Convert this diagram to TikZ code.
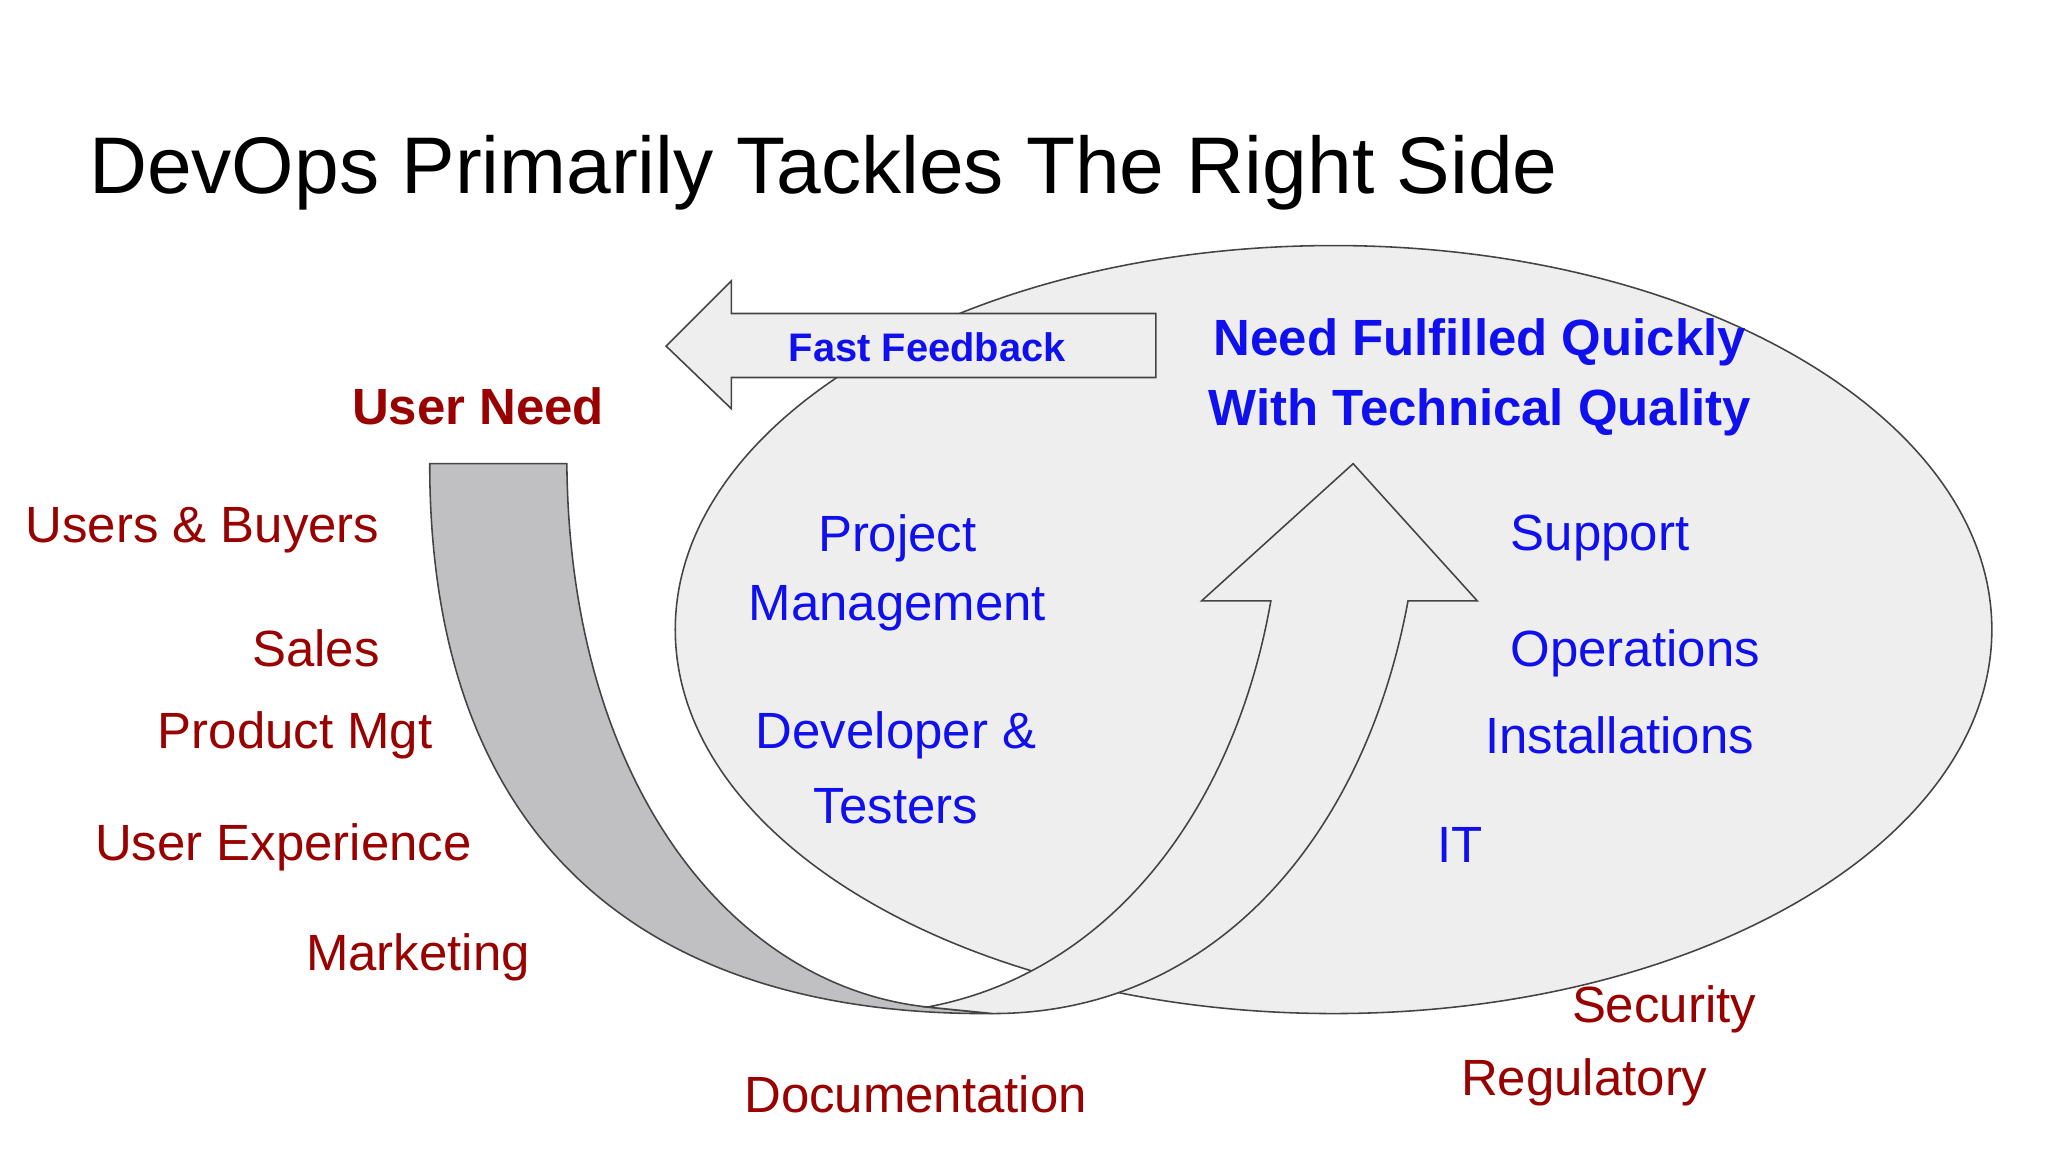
\documentclass[tikz,border=0pt]{standalone}
\usepackage{fontspec}
\setmainfont{Liberation Sans}
\definecolor{dred}{HTML}{990000}
\definecolor{dblue}{HTML}{1010EE}
\definecolor{lg}{HTML}{EEEEEE}
\definecolor{mg}{HTML}{C0BFC2}
\definecolor{ln}{HTML}{444444}
\begin{document}
\begin{tikzpicture}[x=1pt,y=-1pt,
  red/.style={text=dred,font=\fontsize{39}{42}\selectfont,inner sep=0},
  blu/.style={text=dblue,font=\fontsize{39}{42}\selectfont,inner sep=0},
  shp/.style={draw=ln,line width=1.2pt}]
\useasboundingbox (0,0) rectangle (1568,882);
\fill[white] (0,0) rectangle (1568,882);
\node[anchor=west,inner sep=0,font=\fontsize{61.5}{64}\selectfont] (title) at (68,132) {DevOps Primarily Tackles The Right Side};
% ellipse
\draw[shp,fill=lg] (1021,482) ellipse [x radius=504, y radius=294];
% fast feedback arrow
\draw[shp,fill=lg] (510,265) -- (560,215) -- (560,240) -- (885,240) -- (885,289) -- (560,289) -- (560,313) -- cycle;
% grey arrow
\draw[shp,fill=mg] (329,355) -- (434,355) .. controls (436,600) and (560,755) .. (710,771)
  -- (760,776) .. controls (500,778) and (329,650) .. (329,355) -- cycle;
% up arrow
\draw[shp,fill=lg] (710,771) .. controls (850,745) and (945,620) .. (973,460) -- (920,460) -- (1036,355) -- (1131,460) -- (1078,460)
  .. controls (1045,640) and (930,776) .. (760,776) -- cycle;
% texts
\node[red,font=\bfseries\fontsize{39}{42}\selectfont] (un) at (366,311) {User Need};
\node[red] (ub) at (155,406) {Users \& Buyers};
\node[red] (sa) at (242,496) {Sales};
\node[red] (pm) at (226,563) {Product Mgt};
\node[red] (ux) at (217,649) {User Experience};
\node[red] (mk) at (320,733) {Marketing};
\node[red] (doc) at (701,838) {Documentation};
\node[red] (sec) at (1274,773) {Security};
\node[red] (reg) at (1213,829) {Regulatory};
\node[blu,font=\bfseries\fontsize{30.5}{32}\selectfont] (ff) at (710,266) {Fast Feedback};
\node[blu,font=\bfseries\fontsize{39}{42}\selectfont] (n1) at (1133,262) {Need Fulfilled Quickly};
\node[blu,font=\bfseries\fontsize{39}{42}\selectfont] (n2) at (1133,316) {With Technical Quality};
\node[blu] (p1) at (687,412) {Project};
\node[blu] (p2) at (687,466) {Management};
\node[blu] (d1) at (686,563) {Developer \&};
\node[blu] (d2) at (686,617) {Testers};
\node[blu] (su) at (1225,412) {Support};
\node[blu] (op) at (1252,500) {Operations};
\node[blu] (in) at (1240,563) {Installations};
\node[blu] (it) at (1118,647) {IT};
\end{tikzpicture}
\end{document}
